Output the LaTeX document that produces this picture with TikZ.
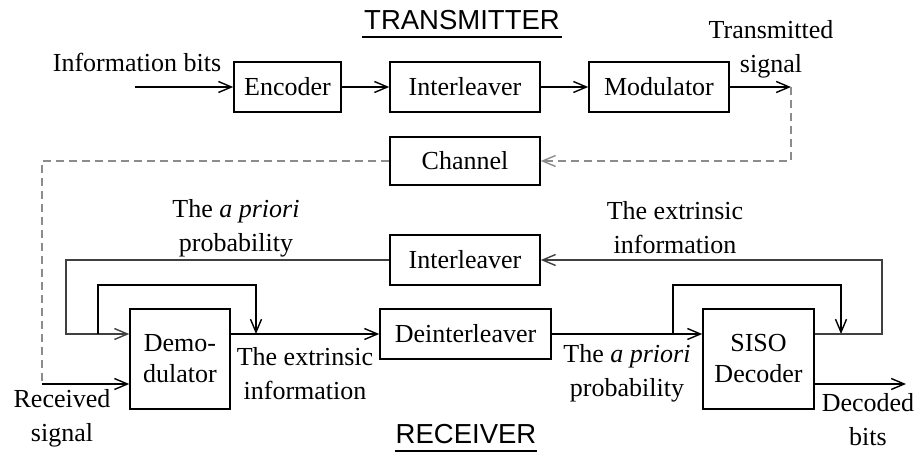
\documentclass[tikz,border=0pt]{standalone}
\usepackage{fontspec}
\setmainfont{Liberation Serif}
\newfontfamily\arialf{Liberation Sans}
\usetikzlibrary{arrows.meta}
\begin{document}
\begin{tikzpicture}[x=1pt,y=-1pt,
  tip/.tip={Straight Barb[length=13pt,width=11pt,line width=1.4pt]},
  blk/.style={draw, line width=1.6pt, inner sep=0pt, align=center, font=\fontsize{26}{31}\selectfont},
  lbl/.style={inner sep=0pt, align=center, font=\fontsize{26}{34}\selectfont},
  ttl/.style={inner sep=1pt, font=\arialf\fontsize{27.5}{30}\selectfont},
  arr/.style={line width=1.5pt, -tip},
  ln/.style={line width=1.5pt},
  gln/.style={line width=1.8pt, draw=black!75},
  dsh/.style={draw=black!45, line width=1.5pt, dash pattern=on 8pt off 5pt}
]
\useasboundingbox (0,0) rectangle (918,452);

% titles
\node[ttl] (tx) at (462,20) {TRANSMITTER};
\draw[line width=1.4pt] (362,37) -- (562,37);
\node[ttl] (rx) at (466,434) {RECEIVER};
\draw[line width=1.4pt] (395,451) -- (537,451);

% transmitter blocks
\node[blk, minimum width=107pt, minimum height=50pt] (enc) at (287.5,87) {Encoder};
\node[blk, minimum width=150pt, minimum height=50pt] (il1) at (465,87) {Interleaver};
\node[blk, minimum width=140pt, minimum height=50pt] (mod) at (659,87) {Modulator};
\node[blk, minimum width=150pt, minimum height=48pt] (chan) at (465,161) {Channel};

% receiver blocks
\node[blk, minimum width=150pt, minimum height=50pt] (il2) at (465,260) {Interleaver};
\node[blk, minimum width=171pt, minimum height=50pt] (deint) at (465.5,334) {Deinterleaver};
\node[blk, minimum width=100pt, minimum height=100pt] (demod) at (180,359) {Demo-\\dulator};
\node[blk, minimum width=111pt, minimum height=100pt] (siso) at (758.5,359) {SISO\\Decoder};

% labels
\node[lbl] (linfo) at (137,62) {Information bits};
\node[lbl] (ltx) at (771,49) {Transmitted\\signal};
\node[lbl] (lap1) at (236,228) {The \textit{a priori}\\probability};
\node[lbl] (lex1) at (675,228) {The extrinsic\\information};
\node[lbl] (lex2) at (305,374) {The extrinsic\\information};
\node[lbl] (lap2) at (627,373) {The \textit{a priori}\\probability};
\node[lbl] (lrx) at (62,418) {Received\\signal};
\node[lbl] (ldec) at (868,420) {Decoded\\bits};

% coordinates
\coordinate (inb) at (135,87);
\coordinate (txo) at (791,87);
\coordinate (dtop) at (791,161);
\coordinate (dleft) at (42,161);
\coordinate (rxin) at (42,384);
\coordinate (oll) at (66,334);
\coordinate (ilx) at (98,334);
\coordinate (ilxt) at (98,285);
\coordinate (ilrt) at (256,285);
\coordinate (ilr) at (256,334);
\coordinate (srx) at (673,334);
\coordinate (srxt) at (673,285);
\coordinate (srrt) at (841,285);
\coordinate (srr) at (841,334);
\coordinate (olr) at (882,334);
\coordinate (decout) at (906,384);

% transmitter connectors
\draw[arr] (inb) -- (enc.west);
\draw[arr] (enc.east) -- (il1.west);
\draw[arr] (il1.east) -- (mod.west);
\draw[arr] (mod.east) -- (txo);
\draw[dsh, -tip] (txo) -- (dtop) -- (chan.east);
\draw[dsh] (chan.west) -- (dleft) -- (rxin);

% receiver connectors
\draw[arr] (rxin) -- (demod.west |- rxin);
\draw[gln, -tip] (il2.west) -| (oll) -- (demod.west |- deint.west);
\draw[ln, -tip] (ilx) -- (ilxt) -- (ilrt) -- (ilr);
\draw[arr] (demod.east |- deint.west) -- (deint.west);
\draw[arr] (deint.east) -- (siso.west |- deint.east);
\draw[ln, -tip] (srx) -- (srxt) -- (srrt) -- (srr);
\draw[gln, -tip] (siso.east |- deint.east) -- (olr) |- (il2.east);
\draw[arr] (siso.east |- decout) -- (decout);
\end{tikzpicture}
\end{document}
